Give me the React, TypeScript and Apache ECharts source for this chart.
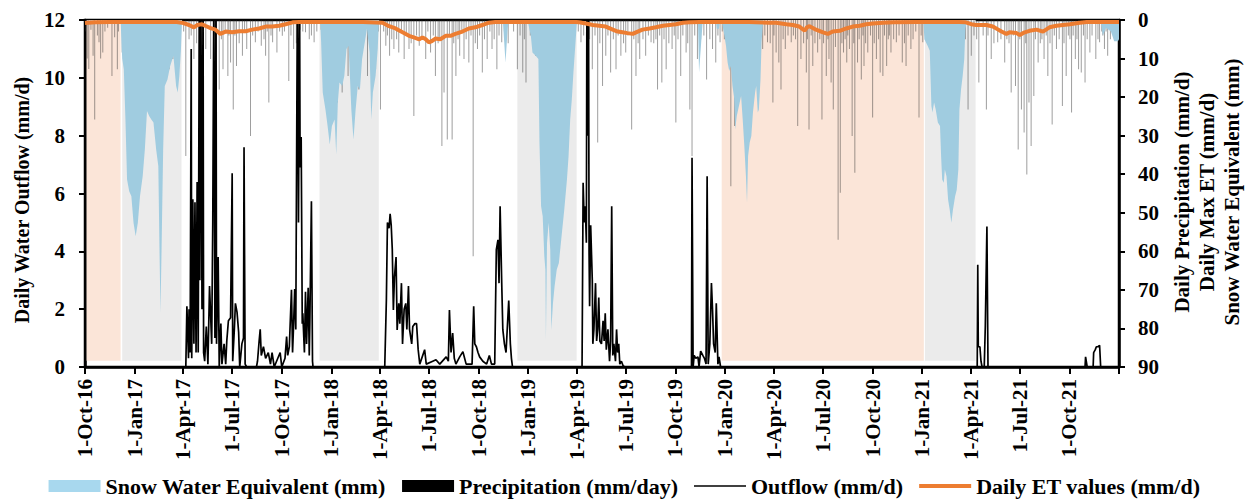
import React, { useEffect, useRef } from 'react';
import * as echarts from 'echarts';

const FONT = "'Liberation Serif', 'Times New Roman', serif";
const START = '2016-10-01';
const END = '2022-01-01';
const MONTHS = ['Jan', 'Feb', 'Mar', 'Apr', 'May', 'Jun', 'Jul', 'Aug', 'Sep', 'Oct', 'Nov', 'Dec'];
const QUARTER_MONTHS = ['01', '04', '07', '10'];

const LEFT_TITLE = 'Daily Water Outflow (mm/d)';
const RIGHT_TITLES = ['Daily Precipitation (mm/d)', 'Daily Max ET (mm/d)', 'Snow Water Equivalent (mm)'];
const SERIES_NAMES = ['Snow Water Equivalent (mm)', 'Precipitation (mm/day)', 'Outflow (mm/d)', 'Daily ET values (mm/d)'];

// shaded periods [from, to]
const SHADE_DRY: [string, string][] = [['2016-10-04', '2016-12-06'], ['2019-12-26', '2021-01-04']];
const SHADE_SNOW: [string, string][] = [
  ['2016-12-09', '2017-03-29'], ['2017-12-10', '2018-03-30'], ['2018-12-12', '2019-04-01'], ['2021-01-06', '2021-04-10'],
];
const SHADE_BOTTOM = 0.22;
const SHADE_TOP = 12;

// Snow water equivalent (mm), right inverted axis
const SWE: [string, number][] = [
  ['2016-10-01', 0], ['2016-12-06', 0], ['2016-12-09', 10], ['2016-12-12', 12.8], ['2016-12-15', 25.8], ['2016-12-18', 41.4],
  ['2016-12-22', 44.4], ['2016-12-26', 45.7], ['2016-12-30', 52.6], ['2017-01-03', 56.1], ['2017-01-07', 52.6], ['2017-01-11', 45.7],
  ['2017-01-16', 40.5], ['2017-01-20', 33.6], ['2017-01-24', 23.6], ['2017-01-28', 24.9], ['2017-02-01', 25.8], ['2017-02-05', 26.6],
  ['2017-02-10', 33.6], ['2017-02-14', 37.9], ['2017-02-16', 57.9], ['2017-02-18', 76], ['2017-02-20', 59.6], ['2017-02-23', 33.6],
  ['2017-02-26', 17.1], ['2017-03-03', 15.4], ['2017-03-08', 11.9], ['2017-03-14', 9.3], ['2017-03-19', 17.1], ['2017-03-22', 18.8],
  ['2017-03-25', 14.5], ['2017-03-28', 7.5], ['2017-03-30', 0],
  ['2017-12-11', 0], ['2017-12-13', 5.8], ['2017-12-16', 18.8], ['2017-12-21', 23.2], ['2017-12-25', 27.5], ['2017-12-29', 32.3],
  ['2018-01-02', 27.5], ['2018-01-07', 25.8], ['2018-01-10', 34.9], ['2018-01-13', 21.4], ['2018-01-16', 16.2], ['2018-01-21', 17.1],
  ['2018-01-25', 14.5], ['2018-01-29', 7.5], ['2018-02-02', 6.7], ['2018-02-07', 23.2], ['2018-02-11', 31], ['2018-02-15', 23.2],
  ['2018-02-19', 17.1], ['2018-02-23', 18], ['2018-02-27', 10.1], ['2018-03-04', 5.8], ['2018-03-08', 2.3], ['2018-03-13', 8.4],
  ['2018-03-16', 25.8], ['2018-03-19', 18.8], ['2018-03-24', 14.5], ['2018-03-28', 7.5], ['2018-03-30', 0.6], ['2018-03-31', 0],
  ['2018-11-15', 0], ['2018-11-20', 11], ['2018-11-24', 2.3], ['2018-11-26', 0],
  ['2018-12-31', 0], ['2019-01-02', 1.5], ['2019-01-06', 4.1], ['2019-01-09', 8.4], ['2019-01-15', 9.3], ['2019-01-20', 10.1],
  ['2019-01-22', 31.8], ['2019-01-25', 48.3], ['2019-01-28', 50.9], ['2019-01-31', 61.3], ['2019-02-02', 64.8], ['2019-02-03', 83],
  ['2019-02-05', 57.9], ['2019-02-08', 52.6], ['2019-02-11', 59.6], ['2019-02-13', 80.4], ['2019-02-16', 73.5], ['2019-02-19', 69.1],
  ['2019-02-23', 64.8], ['2019-02-27', 63], ['2019-03-04', 56.1], ['2019-03-09', 49.2], ['2019-03-14', 41.4], ['2019-03-17', 35.3],
  ['2019-03-20', 25.8], ['2019-03-23', 20.6], ['2019-03-26', 13.6], ['2019-03-29', 7.5], ['2019-04-01', 1.5], ['2019-04-02', 0],
  ['2019-11-12', 0], ['2019-11-14', 13.6], ['2019-11-18', 5.8], ['2019-11-21', 0],
  ['2019-12-15', 0], ['2019-12-17', 2.3], ['2019-12-21', 2.3], ['2019-12-23', 0],
  ['2019-12-26', 0], ['2019-12-31', 4.1], ['2020-01-03', 6.7], ['2020-01-06', 11], ['2020-01-09', 13.2], ['2020-01-12', 11.9],
  ['2020-01-15', 17.1], ['2020-01-18', 20.1], ['2020-01-20', 28.4], ['2020-01-23', 24.9], ['2020-01-27', 22.3], ['2020-01-31', 19.7],
  ['2020-02-03', 25.8], ['2020-02-06', 32.7], ['2020-02-09', 40.5], ['2020-02-11', 47.4], ['2020-02-13', 35.3], ['2020-02-16', 31.8],
  ['2020-02-19', 30.1], ['2020-02-22', 24], ['2020-02-26', 18.8], ['2020-02-28', 17.1], ['2020-03-02', 24], ['2020-03-04', 23.2],
  ['2020-03-07', 15.4], ['2020-03-09', 5.8], ['2020-03-12', 0],
  ['2021-01-03', 0], ['2021-01-05', 5], ['2021-01-11', 6.7], ['2021-01-15', 8], ['2021-01-18', 22.3], ['2021-01-20', 24],
  ['2021-01-23', 21.4], ['2021-01-26', 23.2], ['2021-01-30', 26.6], ['2021-02-03', 27.5], ['2021-02-05', 35.3], ['2021-02-07', 41.4],
  ['2021-02-10', 42.2], ['2021-02-12', 38.8], ['2021-02-15', 40.5], ['2021-02-18', 46.6], ['2021-02-21', 49.2], ['2021-02-24', 52.6],
  ['2021-02-27', 49.2], ['2021-03-03', 45.7], ['2021-03-06', 44], ['2021-03-09', 38.8], ['2021-03-11', 23.2], ['2021-03-14', 18],
  ['2021-03-17', 14.5], ['2021-03-20', 10.1], ['2021-03-22', 2.3], ['2021-03-25', 0],
  ['2021-11-28', 0], ['2021-12-02', 4], ['2021-12-08', 2], ['2021-12-17', 3], ['2021-12-23', 5.5], ['2021-12-30', 5.5], ['2022-01-01', 5],
];

// Daily precipitation (mm/day), larger events
const PRECIP_MAJOR: [string, number][] = [
  ['2016-10-05', 10], ['2016-10-08', 12.7], ['2016-10-16', 9.3], ['2016-10-19', 25.8], ['2016-10-27', 5.8], ['2016-10-30', 10],
  ['2016-11-03', 8.4], ['2016-11-20', 14.5], ['2016-11-30', 12.8], ['2016-12-09', 8.4], ['2016-12-18', 7.5],
  ['2017-01-02', 18.8], ['2017-01-06', 11], ['2017-01-21', 9.3], ['2017-01-28', 7.5], ['2017-02-12', 17.1], ['2017-02-24', 15.4],
  ['2017-03-06', 12.8], ['2017-03-13', 10.1], ['2017-03-22', 12.8], ['2017-04-06', 35.3], ['2017-04-12', 5], ['2017-04-21', 10.1],
  ['2017-05-13', 7.5], ['2017-05-22', 10.1], ['2017-06-01', 8.4], ['2017-06-07', 18], ['2017-06-14', 12.8], ['2017-06-23', 14.5],
  ['2017-06-28', 11], ['2017-07-03', 23.2], ['2017-07-09', 11.9], ['2017-07-20', 9.3], ['2017-07-28', 7.5], ['2017-08-04', 30.1],
  ['2017-08-13', 5.8], ['2017-08-24', 6.7], ['2017-09-01', 9.3], ['2017-09-07', 21.4], ['2017-09-14', 5.8], ['2017-09-22', 8.4],
  ['2017-10-02', 4.1], ['2017-10-14', 15.8], ['2017-10-23', 7.5], ['2017-11-14', 3.2], ['2017-11-21', 5], ['2017-11-30', 5.8],
  ['2017-12-18', 4.1], ['2017-12-31', 11],
  ['2018-01-12', 21.4], ['2018-01-21', 18.8], ['2018-02-01', 14.5], ['2018-02-21', 18], ['2018-03-09', 14.5], ['2018-03-24', 12.8],
  ['2018-04-02', 23.2], ['2018-04-12', 6.7], ['2018-04-19', 9.3], ['2018-04-27', 7.5], ['2018-05-06', 8.4], ['2018-05-16', 10.1],
  ['2018-05-25', 7.5], ['2018-06-03', 24.9], ['2018-06-13', 6.7], ['2018-06-25', 10.1], ['2018-07-04', 8.4], ['2018-07-13', 14.5],
  ['2018-07-25', 32.7], ['2018-07-29', 18.8], ['2018-08-04', 31], ['2018-08-13', 31], ['2018-08-20', 14.5], ['2018-08-27', 9.3],
  ['2018-09-04', 10.1], ['2018-09-13', 11], ['2018-09-21', 61.3], ['2018-09-29', 7.5], ['2018-10-08', 13.6], ['2018-10-17', 10.1],
  ['2018-10-26', 7.5], ['2018-11-04', 12.8], ['2018-11-13', 5.8], ['2018-12-12', 12.8], ['2018-12-22', 13.6], ['2018-12-28', 16.2],
  ['2019-01-15', 9.3], ['2019-02-06', 6.7], ['2019-02-24', 11.9], ['2019-03-06', 5], ['2019-03-15', 6.7], ['2019-04-09', 5.8],
  ['2019-04-21', 8.4], ['2019-04-30', 12.8], ['2019-05-10', 31.8], ['2019-05-19', 17.1], ['2019-05-25', 9.3], ['2019-06-03', 13.6],
  ['2019-06-13', 12.8], ['2019-06-22', 9.3], ['2019-07-01', 8.4], ['2019-07-12', 28.4], ['2019-07-20', 14.5], ['2019-07-27', 10.1],
  ['2019-08-07', 9.3], ['2019-08-17', 5.8], ['2019-08-29', 18], ['2019-09-06', 16.2], ['2019-09-14', 12.8], ['2019-09-25', 7.5],
  ['2019-10-02', 26.6], ['2019-10-11', 14.5], ['2019-10-21', 8.4], ['2019-10-28', 23.2], ['2019-11-01', 35.3], ['2019-11-11', 10.1],
  ['2019-11-28', 15.4], ['2019-12-09', 7.5], ['2019-12-15', 11], ['2019-12-23', 5.8], ['2019-12-31', 5],
  ['2020-01-06', 7.5], ['2020-01-12', 43.1], ['2020-01-19', 27.5], ['2020-01-27', 12.8], ['2020-02-03', 9.3], ['2020-02-09', 13.6],
  ['2020-02-18', 11.9], ['2020-02-29', 16.2], ['2020-03-11', 7.5], ['2020-03-20', 5.8], ['2020-03-30', 21.4], ['2020-04-05', 8.4],
  ['2020-04-10', 11], ['2020-04-14', 18], ['2020-04-22', 7.5], ['2020-05-03', 5.8], ['2020-05-15', 27.5], ['2020-05-21', 10.1],
  ['2020-05-31', 13.6], ['2020-06-05', 28.4], ['2020-06-12', 11.9], ['2020-06-21', 8.4], ['2020-06-29', 25.8], ['2020-07-07', 14.5],
  ['2020-07-12', 10.1], ['2020-07-16', 16.2], ['2020-07-20', 23.2], ['2020-07-29', 57], ['2020-08-02', 44.8], ['2020-08-08', 8.4],
  ['2020-08-14', 11], ['2020-08-19', 7.5], ['2020-08-24', 30.1], ['2020-08-29', 39.6], ['2020-09-03', 11], ['2020-09-10', 15.4],
  ['2020-09-15', 11.9], ['2020-09-22', 8.4], ['2020-10-01', 25.3], ['2020-10-08', 10.1], ['2020-10-15', 13.6], ['2020-10-20', 14.5],
  ['2020-10-27', 11.9], ['2020-11-04', 8.4], ['2020-11-14', 5.8], ['2020-11-25', 11], ['2020-12-02', 11.9], ['2020-12-11', 7.5],
  ['2020-12-26', 25.3],
  ['2021-01-02', 5.8], ['2021-01-14', 6.7], ['2021-01-23', 11], ['2021-02-04', 7.5], ['2021-02-17', 15.4], ['2021-02-26', 5.8],
  ['2021-03-11', 7.5], ['2021-03-27', 23.2], ['2021-04-02', 9.3], ['2021-04-16', 16.2], ['2021-04-30', 23.2], ['2021-05-09', 10.1],
  ['2021-05-21', 5.8], ['2021-06-03', 11], ['2021-06-15', 18.8], ['2021-06-23', 17.1], ['2021-06-28', 33.6], ['2021-07-04', 23.2],
  ['2021-07-09', 29.2], ['2021-07-14', 40.1], ['2021-07-18', 21.4], ['2021-07-22', 32.7], ['2021-07-27', 19.7], ['2021-08-04', 11],
  ['2021-08-15', 10.1], ['2021-08-22', 14.5], ['2021-08-30', 27.1], ['2021-09-07', 7.5], ['2021-09-18', 22.3], ['2021-09-25', 14.5],
  ['2021-10-05', 24], ['2021-10-12', 10.1], ['2021-10-18', 12.8], ['2021-10-23', 13.6], ['2021-10-30', 16.2], ['2021-11-08', 8.4],
  ['2021-11-19', 10.1], ['2021-11-26', 5.8], ['2021-12-05', 7.5], ['2021-12-11', 9.3],
];

// Daily precipitation (mm/day), small events
const PRECIP_MINOR: [string, number][] = [
  ['2016-10-02', 3], ['2016-10-12', 2.5], ['2016-10-24', 4], ['2016-11-07', 3], ['2016-11-12', 2], ['2016-11-25', 4.5],
  ['2016-12-02', 3], ['2016-12-14', 5], ['2016-12-26', 4], ['2017-01-10', 4], ['2017-01-15', 3], ['2017-01-25', 5],
  ['2017-02-03', 4], ['2017-02-08', 3], ['2017-02-19', 6], ['2017-03-02', 4], ['2017-03-17', 3], ['2017-03-27', 5],
  ['2017-04-02', 3], ['2017-04-16', 4], ['2017-04-26', 6], ['2017-05-03', 3], ['2017-05-08', 5], ['2017-05-28', 4],
  ['2017-06-11', 5], ['2017-06-18', 3], ['2017-06-25', 4], ['2017-07-06', 4], ['2017-07-14', 6], ['2017-07-24', 3],
  ['2017-08-08', 4], ['2017-08-18', 3], ['2017-08-29', 5], ['2017-09-04', 3], ['2017-09-11', 4], ['2017-09-27', 3],
  ['2017-10-06', 3], ['2017-10-18', 4], ['2017-10-28', 6], ['2017-11-04', 2.5], ['2017-11-09', 3], ['2017-11-25', 4],
  ['2017-12-05', 3], ['2017-12-13', 2.5], ['2017-12-24', 6], ['2018-01-04', 5], ['2018-01-08', 3], ['2018-01-17', 7],
  ['2018-01-27', 4], ['2018-02-05', 5], ['2018-02-10', 4], ['2018-02-15', 6], ['2018-02-26', 3], ['2018-03-03', 4],
  ['2018-03-14', 5], ['2018-03-19', 6], ['2018-03-29', 3], ['2018-04-08', 3], ['2018-04-15', 4], ['2018-04-23', 5],
  ['2018-05-02', 5], ['2018-05-11', 3], ['2018-05-20', 4], ['2018-05-29', 6], ['2018-06-08', 4], ['2018-06-18', 5],
  ['2018-06-29', 3], ['2018-07-09', 4], ['2018-07-18', 6], ['2018-07-21', 5], ['2018-08-08', 4], ['2018-08-16', 6],
  ['2018-08-24', 5], ['2018-08-31', 3], ['2018-09-08', 5], ['2018-09-17', 4], ['2018-09-25', 6], ['2018-10-03', 4],
  ['2018-10-12', 5], ['2018-10-22', 3], ['2018-10-30', 5], ['2018-11-08', 4], ['2018-11-18', 3], ['2018-11-25', 6],
  ['2018-12-05', 3], ['2018-12-17', 4], ['2018-12-25', 5], ['2019-01-05', 4], ['2019-01-10', 3], ['2019-01-22', 5],
  ['2019-01-28', 4], ['2019-02-02', 3], ['2019-02-12', 5], ['2019-02-18', 4], ['2019-03-01', 3], ['2019-03-10', 4],
  ['2019-03-21', 3], ['2019-03-28', 4], ['2019-04-04', 3], ['2019-04-14', 4], ['2019-04-25', 5], ['2019-05-05', 4],
  ['2019-05-14', 6], ['2019-05-29', 4], ['2019-06-08', 5], ['2019-06-17', 4], ['2019-06-27', 6], ['2019-07-05', 4],
  ['2019-07-16', 5], ['2019-07-24', 6], ['2019-08-02', 5], ['2019-08-12', 4], ['2019-08-22', 6], ['2019-08-26', 5],
  ['2019-09-02', 4], ['2019-09-10', 5], ['2019-09-19', 6], ['2019-09-29', 4], ['2019-10-06', 5], ['2019-10-15', 4],
  ['2019-10-24', 6], ['2019-11-06', 4], ['2019-11-17', 5], ['2019-11-23', 4], ['2019-12-04', 5], ['2019-12-19', 4],
  ['2019-12-27', 3], ['2020-01-02', 4], ['2020-01-15', 5], ['2020-01-23', 6], ['2020-01-30', 4], ['2020-02-06', 5],
  ['2020-02-13', 4], ['2020-02-23', 6], ['2020-03-03', 4], ['2020-03-07', 5], ['2020-03-15', 4], ['2020-03-25', 6],
  ['2020-04-01', 4], ['2020-04-18', 5], ['2020-04-27', 4], ['2020-05-07', 4], ['2020-05-11', 5], ['2020-05-26', 6],
  ['2020-06-02', 5], ['2020-06-09', 4], ['2020-06-16', 6], ['2020-06-25', 5], ['2020-07-02', 6], ['2020-07-10', 5],
  ['2020-07-24', 7], ['2020-08-05', 6], ['2020-08-11', 5], ['2020-08-16', 4], ['2020-08-27', 6], ['2020-09-06', 5],
  ['2020-09-13', 4], ['2020-09-18', 6], ['2020-09-27', 4], ['2020-10-04', 6], ['2020-10-12', 5], ['2020-10-23', 4],
  ['2020-10-30', 5], ['2020-11-01', 4], ['2020-11-09', 5], ['2020-11-19', 4], ['2020-11-29', 6], ['2020-12-06', 4],
  ['2020-12-15', 5], ['2020-12-20', 3], ['2020-12-30', 4], ['2021-01-07', 4], ['2021-01-18', 5], ['2021-01-27', 3],
  ['2021-02-01', 4], ['2021-02-09', 5], ['2021-02-13', 3], ['2021-02-22', 4], ['2021-03-03', 5], ['2021-03-06', 3],
  ['2021-03-16', 4], ['2021-03-22', 5], ['2021-04-07', 4], ['2021-04-12', 5], ['2021-04-24', 4], ['2021-05-03', 4],
  ['2021-05-14', 6], ['2021-05-27', 5], ['2021-06-07', 5], ['2021-06-11', 6], ['2021-06-19', 4], ['2021-07-01', 5],
  ['2021-07-12', 6], ['2021-07-30', 5], ['2021-08-08', 6], ['2021-08-11', 5], ['2021-08-19', 4], ['2021-08-26', 6],
  ['2021-09-03', 4], ['2021-09-12', 5], ['2021-09-21', 6], ['2021-09-29', 4], ['2021-10-02', 5], ['2021-10-08', 4],
  ['2021-10-15', 5], ['2021-10-27', 4], ['2021-11-03', 5], ['2021-11-12', 4], ['2021-11-23', 5], ['2021-11-30', 3],
  ['2021-12-02', 4], ['2021-12-08', 3], ['2021-12-16', 5], ['2021-12-27', 4],
];

// Daily water outflow (mm/d), left axis
const OUTFLOW: [string, number][] = [
  ['2016-10-01', 0], ['2017-04-06', 0], ['2017-04-08', 2.1], ['2017-04-11', 0.3], ['2017-04-12', 2.0], ['2017-04-14', 0.5],
  ['2017-04-16', 11], ['2017-04-17', 0.3], ['2017-04-19', 5.8], ['2017-04-21', 0.8], ['2017-04-23', 5.7], ['2017-04-25', 0.5],
  ['2017-04-27', 6.4], ['2017-04-29', 0.5], ['2017-05-01', 13], ['2017-05-02', 3], ['2017-05-04', 13], ['2017-05-06', 2],
  ['2017-05-08', 13], ['2017-05-09', 0.5], ['2017-05-11', 0.2], ['2017-05-14', 1.4], ['2017-05-17', 0.1], ['2017-05-20', 2.8],
  ['2017-05-24', 0.8], ['2017-05-26', 5.0], ['2017-05-28', 13], ['2017-05-30', 1], ['2017-06-01', 13], ['2017-06-02', 0.8],
  ['2017-06-05', 3.8], ['2017-06-07', 0], ['2017-06-10', 1.5], ['2017-06-12', 0.1], ['2017-06-16', 0.8], ['2017-06-19', 0.1],
  ['2017-06-21', 0.9], ['2017-06-24', 1.6], ['2017-06-28', 1.7], ['2017-07-01', 6.7], ['2017-07-02', 0.2], ['2017-07-05', 1.3],
  ['2017-07-07', 2.2], ['2017-07-10', 1.9], ['2017-07-13', 1.2], ['2017-07-15', 0], ['2017-07-19', 0.8], ['2017-07-22', 1.0],
  ['2017-07-23', 7.6], ['2017-07-25', 0.1], ['2017-07-28', 0], ['2017-08-15', 0], ['2017-08-17', 0.2], ['2017-08-20', 0.9],
  ['2017-08-22', 1.3], ['2017-08-24', 0.4], ['2017-08-28', 0.7], ['2017-09-01', 0.3], ['2017-09-06', 0.5], ['2017-09-10', 0.1],
  ['2017-09-13', 0.5], ['2017-09-17', 0], ['2017-09-28', 0.5], ['2017-10-01', 0], ['2017-10-07', 0.3], ['2017-10-10', 1.05],
  ['2017-10-12', 0.4], ['2017-10-15', 0.7], ['2017-10-19', 2.67], ['2017-10-21', 0.5], ['2017-10-23', 1.5], ['2017-10-25', 2.7],
  ['2017-10-27', 1.3], ['2017-10-30', 13], ['2017-11-01', 5], ['2017-11-03', 13], ['2017-11-04', 6.9], ['2017-11-06', 7.95],
  ['2017-11-08', 1.5], ['2017-11-09', 1.86], ['2017-11-12', 0.5], ['2017-11-14', 2.6], ['2017-11-16', 0.8], ['2017-11-19', 2.74],
  ['2017-11-21', 0.4], ['2017-11-22', 1.5], ['2017-11-25', 5.73], ['2017-11-27', 0.2], ['2017-11-28', 0],
  ['2018-04-10', 0], ['2018-04-13', 2.3], ['2018-04-15', 5.0], ['2018-04-18', 4.8], ['2018-04-20', 5.3], ['2018-04-22', 4.9],
  ['2018-04-24', 4.06], ['2018-04-26', 1.97], ['2018-04-28', 3.1], ['2018-05-01', 3.8], ['2018-05-03', 1.28], ['2018-05-06', 2.2],
  ['2018-05-08', 1.5], ['2018-05-11', 2.9], ['2018-05-13', 0.8], ['2018-05-16', 2.0], ['2018-05-19', 2.2], ['2018-05-21', 1.3],
  ['2018-05-24', 2.8], ['2018-05-26', 1.3], ['2018-05-30', 0.8], ['2018-06-01', 1.4], ['2018-06-05', 1.5], ['2018-06-08', 1.5],
  ['2018-06-11', 0.6], ['2018-06-14', 0.1], ['2018-06-23', 0.6], ['2018-06-26', 0.1], ['2018-07-08', 0.2], ['2018-07-14', 0.25],
  ['2018-07-21', 0.1], ['2018-08-02', 0.35], ['2018-08-06', 0.2], ['2018-08-08', 1.97], ['2018-08-11', 0.5], ['2018-08-14', 1.17],
  ['2018-08-17', 0.3], ['2018-08-20', 0.1], ['2018-08-27', 0.35], ['2018-09-02', 0.53], ['2018-09-08', 0.1], ['2018-09-19', 0.1],
  ['2018-09-22', 2.1], ['2018-09-24', 0.8], ['2018-09-27', 0.7], ['2018-09-30', 0.5], ['2018-10-03', 0.35], ['2018-10-09', 0.2],
  ['2018-10-16', 0.1], ['2018-10-21', 0.4], ['2018-10-25', 0.1], ['2018-10-31', 0.1], ['2018-11-03', 4.06], ['2018-11-06', 4.4],
  ['2018-11-08', 2.9], ['2018-11-10', 5.56], ['2018-11-13', 2.9], ['2018-11-15', 1.3], ['2018-11-18', 0.8], ['2018-11-21', 0.5],
  ['2018-11-26', 2.3], ['2018-11-29', 0.8], ['2018-12-01', 0.3], ['2018-12-03', 0],
  ['2019-04-11', 0], ['2019-04-13', 6.37], ['2019-04-15', 5.0], ['2019-04-17', 5.56], ['2019-04-19', 4.3], ['2019-04-20', 13],
  ['2019-04-22', 8], ['2019-04-23', 13], ['2019-04-24', 4], ['2019-04-25', 2.1], ['2019-04-27', 4.9], ['2019-04-30', 3.0],
  ['2019-05-01', 0.8], ['2019-05-03', 1.3], ['2019-05-06', 2.9], ['2019-05-08', 0.9], ['2019-05-10', 1.3], ['2019-05-12', 2.4],
  ['2019-05-14', 0.9], ['2019-05-17', 0.8], ['2019-05-20', 1.6], ['2019-05-22', 0.9], ['2019-05-24', 1.86], ['2019-05-26', 0.6],
  ['2019-05-29', 1.3], ['2019-06-01', 0.2], ['2019-06-03', 0.9], ['2019-06-05', 5.56], ['2019-06-07', 0.4], ['2019-06-09', 0.8],
  ['2019-06-12', 0.2], ['2019-06-14', 1.3], ['2019-06-16', 0.5], ['2019-06-18', 0.8], ['2019-06-20', 0.1], ['2019-06-23', 0.2],
  ['2019-06-26', 0.05], ['2019-06-29', 0],
  ['2019-10-31', 0], ['2019-11-01', 7.24], ['2019-11-03', 0], ['2019-11-05', 0.4], ['2019-11-08', 0.3], ['2019-11-12', 0.35],
  ['2019-11-14', 0], ['2019-11-17', 0.55], ['2019-11-21', 0.4], ['2019-11-24', 0.3], ['2019-11-27', 0.1], ['2019-11-29', 6.6],
  ['2019-12-01', 0.1], ['2019-12-04', 0.8], ['2019-12-07', 2.9], ['2019-12-09', 2.0], ['2019-12-11', 0.8], ['2019-12-14', 0.5],
  ['2019-12-16', 2.2], ['2019-12-19', 0.1], ['2019-12-21', 0.35], ['2019-12-24', 0],
  ['2021-04-13', 0], ['2021-04-14', 3.54], ['2021-04-15', 0.7], ['2021-04-18', 0.7], ['2021-04-20', 0.2], ['2021-04-22', 0],
  ['2021-04-26', 0], ['2021-04-28', 1.4], ['2021-05-01', 4.86], ['2021-05-03', 0],
  ['2021-10-30', 0], ['2021-10-31', 0.35], ['2021-11-03', 0], ['2021-11-14', 0], ['2021-11-15', 0.5], ['2021-11-18', 0.6],
  ['2021-11-20', 0.7], ['2021-11-23', 0.7], ['2021-11-26', 0.75], ['2021-11-28', 0], ['2022-01-01', 0],
];

// Daily ET values (mm/d), right inverted axis
const ET: [string, number][] = [
  ['2016-10-01', 0.8], ['2016-10-20', 0.6], ['2016-11-15', 0.5], ['2017-03-20', 0.5], ['2017-03-30', 0.7], ['2017-04-12', 1.3],
  ['2017-04-21', 1.9], ['2017-04-27', 1.3], ['2017-05-06', 1.1], ['2017-05-12', 1.5], ['2017-05-22', 2.1], ['2017-05-31', 2.5],
  ['2017-06-09', 3.6], ['2017-06-19', 3.0], ['2017-07-01', 3.2], ['2017-07-14', 2.9], ['2017-07-26', 2.9], ['2017-08-07', 2.5],
  ['2017-08-20', 2.2], ['2017-09-01', 1.7], ['2017-09-13', 1.7], ['2017-09-26', 1.5], ['2017-10-08', 1.1], ['2017-10-21', 0.6],
  ['2017-11-02', 0.5], ['2018-03-01', 0.5], ['2018-04-06', 0.7], ['2018-04-18', 1.6], ['2018-04-30', 2.2], ['2018-05-13', 3.2],
  ['2018-05-25', 4.1], ['2018-06-03', 4.5], ['2018-06-13', 5.0], ['2018-06-19', 4.5], ['2018-06-25', 5.0], ['2018-07-01', 5.8],
  ['2018-07-07', 5.4], ['2018-07-13', 4.8], ['2018-07-22', 5.0], ['2018-08-01', 4.1], ['2018-08-10', 4.1], ['2018-08-19', 3.6],
  ['2018-09-01', 3.0], ['2018-09-13', 2.2], ['2018-09-25', 1.9], ['2018-10-08', 1.3], ['2018-10-20', 0.7], ['2018-11-01', 0.5],
  ['2018-11-14', 0.5], ['2019-03-31', 0.5], ['2019-04-06', 0.6], ['2019-04-18', 0.9], ['2019-05-01', 1.3], ['2019-05-13', 1.5],
  ['2019-05-25', 1.7], ['2019-06-07', 2.5], ['2019-06-16', 3.0], ['2019-06-25', 3.2], ['2019-07-04', 3.4], ['2019-07-14', 3.6],
  ['2019-07-20', 3.2], ['2019-08-01', 2.5], ['2019-08-14', 2.2], ['2019-08-26', 1.9], ['2019-09-08', 1.5], ['2019-09-20', 1.3],
  ['2019-10-02', 1.1], ['2019-10-15', 0.7], ['2019-10-27', 0.6], ['2019-11-15', 0.5], ['2020-02-15', 0.5], ['2020-03-24', 0.7],
  ['2020-04-05', 0.7], ['2020-04-24', 1.1], ['2020-05-06', 1.3], ['2020-05-18', 1.7], ['2020-05-28', 2.8], ['2020-06-01', 1.9],
  ['2020-06-06', 1.6], ['2020-06-18', 2.5], ['2020-07-01', 3.2], ['2020-07-10', 3.6], ['2020-07-19', 3.0], ['2020-08-01', 2.8],
  ['2020-08-13', 2.2], ['2020-08-25', 1.7], ['2020-09-07', 1.5], ['2020-09-19', 1.1], ['2020-10-01', 0.9], ['2020-10-20', 0.7],
  ['2020-11-08', 0.6], ['2020-12-21', 0.5], ['2021-03-10', 0.5], ['2021-03-23', 0.6], ['2021-04-02', 1.1], ['2021-04-11', 1.3],
  ['2021-04-30', 1.3], ['2021-05-12', 1.7], ['2021-05-22', 2.5], ['2021-05-28', 3.0], ['2021-06-06', 3.6], ['2021-06-12', 3.2],
  ['2021-06-25', 3.4], ['2021-07-01', 3.9], ['2021-07-10', 3.2], ['2021-07-19', 2.8], ['2021-08-01', 2.5], ['2021-08-13', 3.0],
  ['2021-08-25', 1.9], ['2021-09-07', 1.5], ['2021-09-19', 1.3], ['2021-10-02', 1.1], ['2021-10-20', 0.7], ['2021-11-02', 0.5],
  ['2022-01-01', 0.5],
];

const DAY = 86400000;
const T0 = Date.parse(START);
const N_DAYS = Math.round((Date.parse(END) - T0) / DAY);
const CATEGORIES: string[] = [];
for (let i = 0; i <= N_DAYS; i++) CATEGORIES.push(new Date(T0 + i * DAY).toISOString().slice(0, 10));
const idx = (s: string) => Math.round((Date.parse(s) - T0) / DAY);
const pts = (arr: [string, number][]) => arr.map(([d, v]) => [idx(d), v]);
const isQuarter = (v: string) => v.slice(8) === '01' && QUARTER_MONTHS.includes(v.slice(5, 7));
const fmtDate = (v: string) => {
  const [y, m, d] = v.split('-');
  return `${Number(d)}-${MONTHS[Number(m) - 1]}-${y.slice(2)}`;
};

const PEACH = '#FBE5D8';
const GRAY = '#EBEBEB';
const BLUE = '#A0CCE0';
const ORANGE = '#ED7D31';

export default function App() {
  const ref = useRef<HTMLDivElement>(null);
  useEffect(() => {
    if (!ref.current) return;
    const chart = echarts.init(ref.current, undefined, { renderer: 'svg' });
    const labelStyle = { fontFamily: FONT, fontWeight: 'bold' as const, fontSize: 21, color: '#000' };
    const axisLine = { show: true, lineStyle: { color: '#000', width: 2.5 } };
    const axisTick = { show: true, length: 6, lineStyle: { color: '#000', width: 2 } };
    const shadeData = [
      ...SHADE_DRY.map(([a, b]) => [{ xAxis: a, yAxis: SHADE_BOTTOM, itemStyle: { color: PEACH } }, { xAxis: b, yAxis: SHADE_TOP }]),
      ...SHADE_SNOW.map(([a, b]) => [{ xAxis: a, yAxis: SHADE_BOTTOM, itemStyle: { color: GRAY } }, { xAxis: b, yAxis: SHADE_TOP }]),
    ];
    const titleStyle = (size: number) => ({ fontFamily: FONT, fontWeight: 'bold', fontSize: size, fill: '#000', align: 'center', verticalAlign: 'middle' });
    chart.setOption({
      animation: false,
      textStyle: { fontFamily: FONT },
      grid: { left: 85, right: 130, top: 20, bottom: 135, show: true, borderColor: '#000', borderWidth: 2.5, backgroundColor: 'transparent' },
      xAxis: {
        type: 'category',
        data: CATEGORIES,
        boundaryGap: false,
        axisLine,
        axisTick: { ...axisTick, length: 7, interval: (_i: number, v: string) => isQuarter(v) },
        axisLabel: {
          ...labelStyle,
          rotate: 90,
          margin: 12,
          interval: (_i: number, v: string) => isQuarter(v) && v !== END,
          formatter: (v: string) => fmtDate(v),
        },
        splitLine: { show: false },
      },
      yAxis: [
        {
          type: 'value', min: 0, max: 12, interval: 2, position: 'left',
          axisLine, axisTick, splitLine: { show: false },
          axisLabel: { ...labelStyle, margin: 20 },
        },
        {
          type: 'value', min: 0, max: 90, interval: 10, position: 'right', inverse: true,
          axisLine, axisTick, splitLine: { show: false },
          axisLabel: { ...labelStyle, margin: 19 },
        },
      ],
      legend: {
        left: 'center',
        top: 472,
        padding: 0,
        itemWidth: 52,
        itemHeight: 12,
        itemGap: 16,
        selectedMode: false,
        textStyle: { fontFamily: FONT, fontWeight: 'bold', fontSize: 22, color: '#000', lineHeight: 28 },
        data: [
          { name: SERIES_NAMES[0], icon: 'rect', itemStyle: { color: '#A8D8EE', borderWidth: 0 } },
          { name: SERIES_NAMES[1], icon: 'rect', itemStyle: { color: '#000', borderWidth: 0 } },
          { name: SERIES_NAMES[2], icon: 'path://M0,0H52V1.3H0Z', itemStyle: { color: '#000', borderWidth: 0 } },
          { name: SERIES_NAMES[3], icon: 'path://M0,0H52V4H0Z', itemStyle: { color: ORANGE, borderWidth: 0 } },
        ],
      },
      graphic: [
        { type: 'text', x: 22, y: 200, rotation: Math.PI / 2, style: { text: LEFT_TITLE, ...titleStyle(20) } },
        ...RIGHT_TITLES.map((t, i) => ({
          type: 'text', x: 1182 + i * 25, y: 192, rotation: Math.PI / 2, style: { text: t, ...titleStyle(21) },
        })),
      ],
      series: [
        {
          name: 'shade', type: 'line', yAxisIndex: 0, data: [[0, 0]], symbol: 'none', lineStyle: { opacity: 0 }, silent: true,
          markArea: { silent: true, data: shadeData },
        },
        {
          name: SERIES_NAMES[0], type: 'line', yAxisIndex: 1, data: pts(SWE), symbol: 'none',
          lineStyle: { width: 0 }, itemStyle: { color: BLUE }, areaStyle: { color: BLUE, opacity: 1 },
        },
        {
          name: SERIES_NAMES[1], type: 'bar', yAxisIndex: 1, data: pts([...PRECIP_MAJOR, ...PRECIP_MINOR]),
          barWidth: 1, itemStyle: { color: 'rgba(40,40,40,0.45)' },
        },
        {
          name: SERIES_NAMES[2], type: 'line', yAxisIndex: 0, data: pts(OUTFLOW), symbol: 'none',
          lineStyle: { color: '#000', width: 1.7 }, itemStyle: { color: '#000' },
        },
        {
          name: SERIES_NAMES[3], type: 'line', yAxisIndex: 1, data: pts(ET), symbol: 'none',
          lineStyle: { color: ORANGE, width: 4 }, itemStyle: { color: ORANGE },
        },
      ],
    });
    return () => chart.dispose();
  }, []);
  return <div ref={ref} style={{ position: 'fixed', left: 0, top: 0, width: 1249, height: 502, background: '#fff' }} />;
}
